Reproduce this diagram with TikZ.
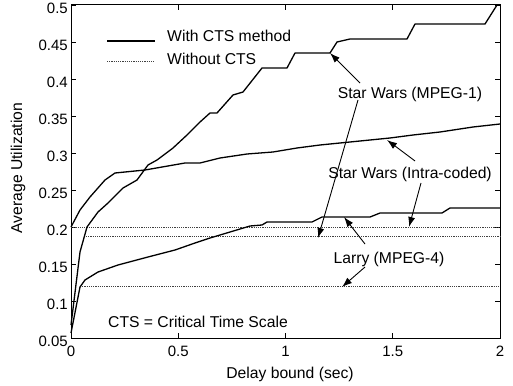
\documentclass[tikz,border=0pt]{standalone}
\usepackage{fontspec}
\setmainfont{Liberation Sans}
\usetikzlibrary{arrows.meta}
\begin{document}
\begin{tikzpicture}[x=1pt,y=-1pt,
  lbl/.style={font=\fontsize{15.7}{18}\selectfont, inner sep=0pt},
  ticklbl/.style={font=\fontsize{15}{18}\selectfont, inner sep=0pt},
  curve/.style={line width=1.3pt, line join=round},
  nocts/.style={line width=0.9pt, dash pattern=on 1.2pt off 1pt, black!75},
  frame/.style={line width=1pt},
  tick/.style={line width=0.8pt},
  pointer/.style={line width=0.9pt, -{Latex[length=10pt,width=7pt]}}]
\useasboundingbox (0,0) rectangle (513,385);
\fill[white] (0,0) rectangle (513,385);
% axes frame and ticks
\draw[frame] (71,5) rectangle (500,338);
\foreach \p in {338,301,264,227,190,153,116,79,42,5} {
  \draw[tick] (71,\p) -- ++(5,0);
  \draw[tick] (500,\p) -- ++(-5,0);
}
\foreach \p in {71,178.25,285.5,392.75,500} {
  \draw[tick] (\p,338) -- ++(0,-5);
  \draw[tick] (\p,5) -- ++(0,5);
}
\foreach \p/\t [count=\i] in {338/0.05,301/0.1,264/0.15,227/0.2,190/0.25,153/0.3,116/0.35,79/0.4,42/0.45,5/0.5} {
  \node[ticklbl, anchor=east] (yt\i) at (68,\p+3) {\t};
}
\foreach \p/\t [count=\i] in {71/0,178.25/0.5,285.5/1,392.75/1.5,500/2} {
  \node[ticklbl] (xt\i) at (\p,351) {\t};
}
\node[lbl, rotate=90] (ylab) at (18,168) {Average Utilization};
\node[lbl] (xlab) at (290,374) {Delay bound (sec)};
% legend
\coordinate (ls1) at (107,41); \coordinate (le1) at (155,41);
\coordinate (ls2) at (107,61); \coordinate (le2) at (155,61);
\draw[curve] (ls1) -- (le1);
\draw[nocts] (ls2) -- (le2);
\node[lbl, anchor=west] (legA) at (167,36) {With CTS method};
\node[lbl, anchor=west] (legB) at (167,59) {Without CTS};
% without CTS (dotted)
\draw[nocts] (71,227) -- (500,227);
\draw[nocts] (86,236.5) -- (500,236.5);
\draw[nocts] (80,286.7) -- (500,286.7);
% Star Wars (Intra-coded), with CTS
\draw[curve] (71,227) -- (80,210) -- (90,197) -- (105,180) -- (115,173) -- (145,170) -- (185,163) -- (200,163) -- (220,158) -- (247,154) -- (273,152) -- (297,148) -- (320,145) -- (340,143) -- (360,141) -- (390,138) -- (413,135) -- (440,132) -- (473,127) -- (500,124);
% Star Wars (MPEG-1), with CTS
\draw[curve] (71,325) -- (80,252) -- (87,227) -- (98,212) -- (108,203) -- (123,188) -- (137,180) -- (148,165) -- (157,160) -- (173,148) -- (187,135) -- (200,122) -- (210,113) -- (217,113) -- (233,95) -- (243,92) -- (262,68) -- (287,68) -- (295,53) -- (330,53) -- (337,42) -- (350,39) -- (407,39) -- (415,24) -- (485,24) -- (497,5) -- (500,5);
% Larry (MPEG-4), with CTS
\draw[curve] (71,333) -- (80,287) -- (85,280) -- (98,272) -- (118,265) -- (148,257) -- (175,250) -- (195,243) -- (210,238) -- (230,232) -- (250,226) -- (262,225) -- (267,222) -- (312,222) -- (322,217) -- (370,217) -- (380,213) -- (442,213) -- (450,208) -- (500,208);
% labels
\node[lbl] (sw1) at (410,94) {Star Wars (MPEG-1)};
\node[lbl] (swi) at (410,174) {Star Wars (Intra-coded)};
\node[lbl] (larry) at (389,259) {Larry (MPEG-4)};
\node[lbl, anchor=west] (cts) at (108,322) {CTS = Critical Time Scale};
% arrows
\coordinate (a1s) at (360,83);  \coordinate (a1t) at (330,53);
\coordinate (a2s) at (358,100); \coordinate (a2t) at (318,238);
\coordinate (a3s) at (415,161); \coordinate (a3t) at (387,140);
\coordinate (a4s) at (421,183); \coordinate (a4t) at (409,227);
\coordinate (a5s) at (365,244); \coordinate (a5t) at (344,217);
\coordinate (a6s) at (365,267); \coordinate (a6t) at (342,287);
\draw[pointer] (a1s) -- (a1t);
\draw[pointer] (a2s) -- (a2t);
\draw[pointer] (a3s) -- (a3t);
\draw[pointer] (a4s) -- (a4t);
\draw[pointer] (a5s) -- (a5t);
\draw[pointer] (a6s) -- (a6t);
\end{tikzpicture}
\end{document}
